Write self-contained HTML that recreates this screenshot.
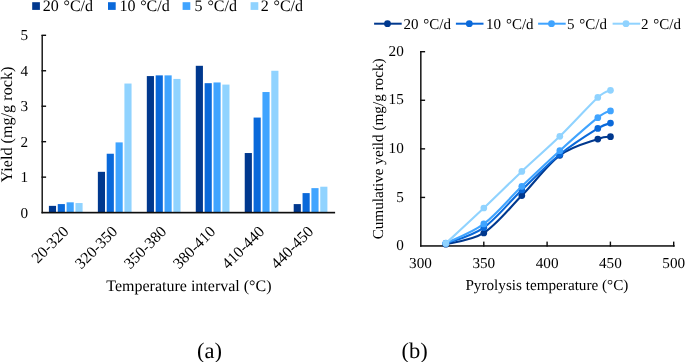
<!DOCTYPE html>
<html><head><meta charset="utf-8"><style>
html,body{margin:0;padding:0;background:#fff;}
svg{display:block;}
text{font-family:"Liberation Serif",serif;fill:#000;text-rendering:geometricPrecision;}
.t{font-size:15.2px;}
.tr{font-size:15.8px;}
.tl{font-size:15px;word-spacing:1.2px;}
.tla{font-size:16px;word-spacing:0.8px;}
.t15{font-size:15.2px;}
.t16{font-size:16px;}
.tab{font-size:22.5px;}
.tx{filter:grayscale(1);}
</style></head><body>
<svg width="685" height="362" viewBox="0 0 685 362">
<rect x="48.90" y="205.86" width="7.15" height="6.74" fill="#00388e"/>
<rect x="57.75" y="204.09" width="7.15" height="8.51" fill="#0a69da"/>
<rect x="66.60" y="202.32" width="7.15" height="10.28" fill="#40a4ff"/>
<rect x="75.45" y="203.03" width="7.15" height="9.57" fill="#90d3ff"/>
<rect x="97.86" y="171.82" width="7.15" height="40.78" fill="#00388e"/>
<rect x="106.71" y="153.74" width="7.15" height="58.86" fill="#0a69da"/>
<rect x="115.56" y="142.39" width="7.15" height="70.21" fill="#40a4ff"/>
<rect x="124.41" y="83.53" width="7.15" height="129.07" fill="#90d3ff"/>
<rect x="146.82" y="76.08" width="7.15" height="136.52" fill="#00388e"/>
<rect x="155.67" y="75.37" width="7.15" height="137.23" fill="#0a69da"/>
<rect x="164.52" y="75.37" width="7.15" height="137.23" fill="#40a4ff"/>
<rect x="173.37" y="78.92" width="7.15" height="133.68" fill="#90d3ff"/>
<rect x="195.78" y="65.80" width="7.15" height="146.80" fill="#00388e"/>
<rect x="204.63" y="83.17" width="7.15" height="129.43" fill="#0a69da"/>
<rect x="213.48" y="82.46" width="7.15" height="130.14" fill="#40a4ff"/>
<rect x="222.33" y="84.59" width="7.15" height="128.01" fill="#90d3ff"/>
<rect x="244.74" y="153.03" width="7.15" height="59.57" fill="#00388e"/>
<rect x="253.59" y="117.57" width="7.15" height="95.03" fill="#0a69da"/>
<rect x="262.44" y="92.04" width="7.15" height="120.56" fill="#40a4ff"/>
<rect x="271.29" y="70.76" width="7.15" height="141.84" fill="#90d3ff"/>
<rect x="293.70" y="204.09" width="7.15" height="8.51" fill="#00388e"/>
<rect x="302.55" y="193.10" width="7.15" height="19.50" fill="#0a69da"/>
<rect x="311.40" y="188.13" width="7.15" height="24.47" fill="#40a4ff"/>
<rect x="320.25" y="186.71" width="7.15" height="25.89" fill="#90d3ff"/>
<rect x="41.5" y="35" width="1.4" height="178.3" fill="#0d0d0d"/>
<rect x="41.5" y="211.8" width="293.6" height="1.65" fill="#0d0d0d"/>
<rect x="41.5" y="176.44" width="4.6" height="1.4" fill="#0d0d0d"/>
<rect x="41.5" y="140.98" width="4.6" height="1.4" fill="#0d0d0d"/>
<rect x="41.5" y="105.52" width="4.6" height="1.4" fill="#0d0d0d"/>
<rect x="41.5" y="70.06" width="4.6" height="1.4" fill="#0d0d0d"/>
<rect x="41.5" y="34.60" width="4.6" height="1.4" fill="#0d0d0d"/>
<rect x="32.2" y="2.2" width="7.7" height="7.7" fill="#00388e"/>
<rect x="108.0" y="2.2" width="7.7" height="7.7" fill="#0a69da"/>
<rect x="182.6" y="2.2" width="7.7" height="7.7" fill="#40a4ff"/>
<rect x="250.6" y="2.2" width="7.7" height="7.7" fill="#90d3ff"/>
<rect x="420.1" y="51" width="1.45" height="195.7" fill="#0d0d0d"/>
<rect x="420.1" y="245.2" width="254.6" height="1.5" fill="#0d0d0d"/>
<rect x="420.1" y="196.73" width="5" height="1.4" fill="#0d0d0d"/>
<rect x="420.1" y="148.15" width="5" height="1.4" fill="#0d0d0d"/>
<rect x="420.1" y="99.57" width="5" height="1.4" fill="#0d0d0d"/>
<rect x="420.1" y="51.00" width="5" height="1.4" fill="#0d0d0d"/>
<rect x="483.10" y="241.6" width="1.4" height="5" fill="#0d0d0d"/>
<rect x="546.40" y="241.6" width="1.4" height="5" fill="#0d0d0d"/>
<rect x="609.70" y="241.6" width="1.4" height="5" fill="#0d0d0d"/>
<rect x="673.00" y="241.6" width="1.4" height="5" fill="#0d0d0d"/>
<path d="M445.83,244.15 C452.16,242.29 471.16,241.08 483.82,232.98 C496.49,224.89 509.15,208.52 521.82,195.58 C534.48,182.64 547.15,164.78 559.82,155.36 C572.48,145.94 589.37,142.15 597.81,139.04 C606.25,135.93 608.36,137.09 610.48,136.71" fill="none" stroke="#00388e" stroke-width="2.1"/>
<circle cx="445.83" cy="244.15" r="3.35" fill="#00388e"/>
<circle cx="483.82" cy="232.98" r="3.35" fill="#00388e"/>
<circle cx="521.82" cy="195.58" r="3.35" fill="#00388e"/>
<circle cx="559.82" cy="155.36" r="3.35" fill="#00388e"/>
<circle cx="597.81" cy="139.04" r="3.35" fill="#00388e"/>
<circle cx="610.48" cy="136.71" r="3.35" fill="#00388e"/>
<path d="M445.83,243.67 C452.16,240.98 471.16,236.50 483.82,227.54 C496.49,218.59 509.15,202.12 521.82,189.94 C534.48,177.77 547.15,164.73 559.82,154.48 C572.48,144.24 589.37,133.68 597.81,128.45 C606.25,123.22 608.36,124.00 610.48,123.11" fill="none" stroke="#0a69da" stroke-width="2.1"/>
<circle cx="445.83" cy="243.67" r="3.35" fill="#0a69da"/>
<circle cx="483.82" cy="227.54" r="3.35" fill="#0a69da"/>
<circle cx="521.82" cy="189.94" r="3.35" fill="#0a69da"/>
<circle cx="559.82" cy="154.48" r="3.35" fill="#0a69da"/>
<circle cx="597.81" cy="128.45" r="3.35" fill="#0a69da"/>
<circle cx="610.48" cy="123.11" r="3.35" fill="#0a69da"/>
<path d="M445.83,243.18 C452.16,239.98 471.16,233.42 483.82,223.95 C496.49,214.47 509.15,198.56 521.82,186.35 C534.48,174.14 547.15,162.14 559.82,150.70 C572.48,139.25 589.37,124.29 597.81,117.66 C606.25,111.04 608.36,112.08 610.48,110.96" fill="none" stroke="#40a4ff" stroke-width="2.1"/>
<circle cx="445.83" cy="243.18" r="3.35" fill="#40a4ff"/>
<circle cx="483.82" cy="223.95" r="3.35" fill="#40a4ff"/>
<circle cx="521.82" cy="186.35" r="3.35" fill="#40a4ff"/>
<circle cx="559.82" cy="150.70" r="3.35" fill="#40a4ff"/>
<circle cx="597.81" cy="117.66" r="3.35" fill="#40a4ff"/>
<circle cx="610.48" cy="110.96" r="3.35" fill="#40a4ff"/>
<path d="M445.83,243.38 C452.16,237.48 471.16,220.01 483.82,208.01 C496.49,196.02 509.15,183.34 521.82,171.39 C534.48,159.44 547.15,148.64 559.82,136.32 C572.48,124.00 589.37,105.12 597.81,97.46 C606.25,89.80 608.36,91.55 610.48,90.37" fill="none" stroke="#90d3ff" stroke-width="2.1"/>
<circle cx="445.83" cy="243.38" r="3.35" fill="#90d3ff"/>
<circle cx="483.82" cy="208.01" r="3.35" fill="#90d3ff"/>
<circle cx="521.82" cy="171.39" r="3.35" fill="#90d3ff"/>
<circle cx="559.82" cy="136.32" r="3.35" fill="#90d3ff"/>
<circle cx="597.81" cy="97.46" r="3.35" fill="#90d3ff"/>
<circle cx="610.48" cy="90.37" r="3.35" fill="#90d3ff"/>
<rect x="374.1" y="22.7" width="27.6" height="2" fill="#00388e"/>
<circle cx="387.50" cy="23.7" r="3.4" fill="#00388e"/>
<rect x="455.9" y="22.7" width="27.6" height="2" fill="#0a69da"/>
<circle cx="469.30" cy="23.7" r="3.4" fill="#0a69da"/>
<rect x="538.1" y="22.7" width="27.6" height="2" fill="#40a4ff"/>
<circle cx="551.50" cy="23.7" r="3.4" fill="#40a4ff"/>
<rect x="612.6" y="22.7" width="27.6" height="2" fill="#90d3ff"/>
<circle cx="626.00" cy="23.7" r="3.4" fill="#90d3ff"/>
<g class="tx">
<text x="28" y="217.50" text-anchor="end" class="t">0</text>
<text x="28" y="182.04" text-anchor="end" class="t">1</text>
<text x="28" y="146.58" text-anchor="end" class="t">2</text>
<text x="28" y="111.12" text-anchor="end" class="t">3</text>
<text x="28" y="75.66" text-anchor="end" class="t">4</text>
<text x="28" y="40.20" text-anchor="end" class="t">5</text>
<text class="tr" text-anchor="end" transform="translate(69.50,232.4) rotate(-45)">20-320</text>
<text class="tr" text-anchor="end" transform="translate(118.46,232.4) rotate(-45)">320-350</text>
<text class="tr" text-anchor="end" transform="translate(167.42,232.4) rotate(-45)">350-380</text>
<text class="tr" text-anchor="end" transform="translate(216.38,232.4) rotate(-45)">380-410</text>
<text class="tr" text-anchor="end" transform="translate(265.34,232.4) rotate(-45)">410-440</text>
<text class="tr" text-anchor="end" transform="translate(314.30,232.4) rotate(-45)">440-450</text>
<text x="106.3" y="291.1" class="t16">Temperature interval (°C)</text>
<text class="t16" text-anchor="middle" style="font-size:16.2px" transform="translate(12.2,124.6) rotate(-90)">Yield (mg/g rock)</text>
<text x="42.699999999999996" y="11" class="tla">20 °C/d</text>
<text x="119.39999999999999" y="11" class="tla">10 °C/d</text>
<text x="194.60000000000002" y="11" class="tla">5 °C/d</text>
<text x="260.7" y="11" class="tla">2 °C/d</text>
<text x="197" y="357.5" class="tab">(a)</text>
<text x="403.8" y="250.20" text-anchor="end" class="t15">0</text>
<text x="403.8" y="201.62" text-anchor="end" class="t15">5</text>
<text x="403.8" y="153.05" text-anchor="end" class="t15">10</text>
<text x="403.8" y="104.47" text-anchor="end" class="t15">15</text>
<text x="403.8" y="55.90" text-anchor="end" class="t15">20</text>
<text x="420.50" y="268" text-anchor="middle" class="t15">300</text>
<text x="483.80" y="268" text-anchor="middle" class="t15">350</text>
<text x="547.10" y="268" text-anchor="middle" class="t15">400</text>
<text x="610.40" y="268" text-anchor="middle" class="t15">450</text>
<text x="673.70" y="268" text-anchor="middle" class="t15">500</text>
<text x="465.4" y="290.2" class="t15">Pyrolysis temperature (°C)</text>
<text class="t15" text-anchor="middle" transform="translate(382.5,148.9) rotate(-90)">Cumulative yeild (mg/g rock)</text>
<text x="403.40000000000003" y="28.7" class="tl">20 °C/d</text>
<text x="486.0" y="28.7" class="tl">10 °C/d</text>
<text x="566.9" y="28.7" class="tl">5 °C/d</text>
<text x="640.9" y="28.7" class="tl">2 °C/d</text>
<text x="401.4" y="357.5" class="tab">(b)</text>
</g>
</svg></body></html>
